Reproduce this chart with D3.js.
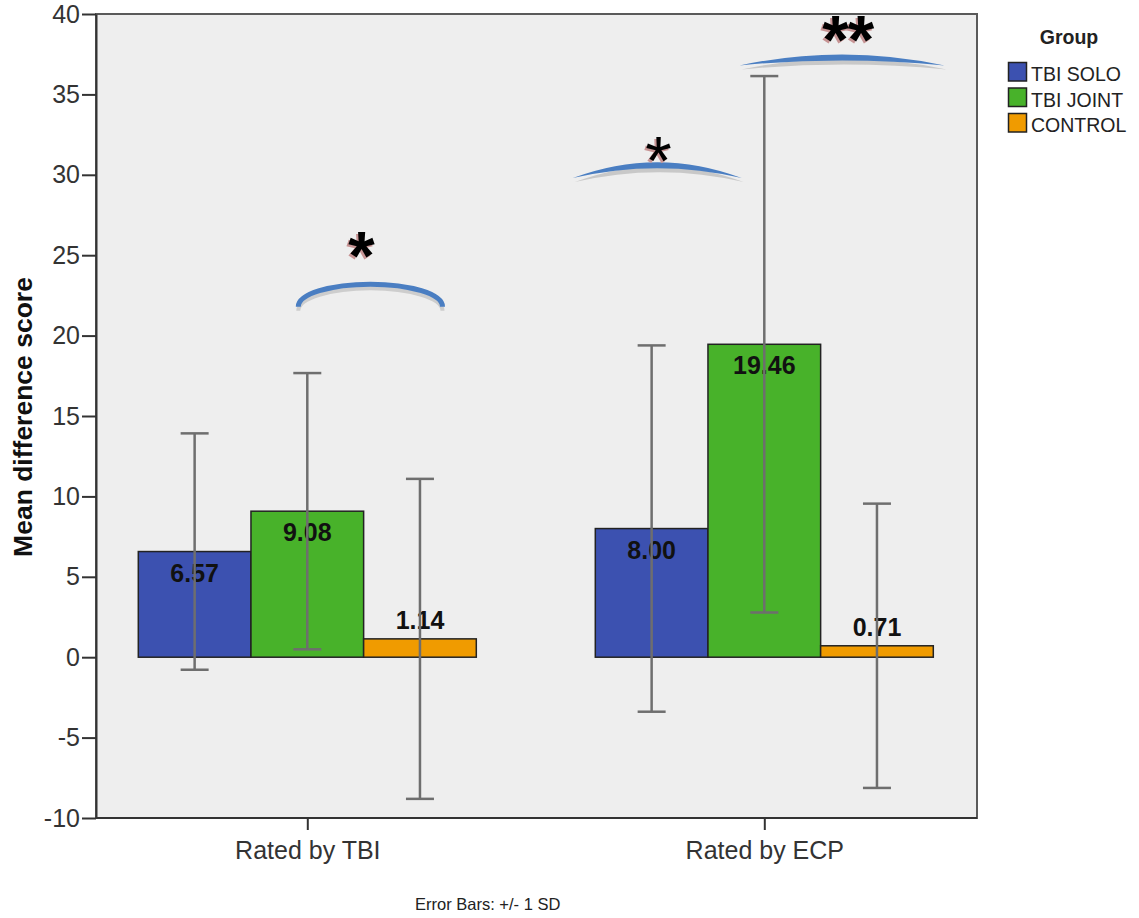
<!DOCTYPE html>
<html><head><meta charset="utf-8">
<script src="https://cdn.jsdelivr.net/npm/d3@7"></script>
<style>
body{margin:0;background:#fff;}
svg{display:block;font-family:"Liberation Sans",Arial,sans-serif;}
</style>
</head><body>
<svg id="chart" width="1139" height="918"></svg>
<script>
// ---------- data ----------
const categories = ["Rated by TBI", "Rated by ECP"];
const groups = ["TBI SOLO", "TBI JOINT", "CONTROL"];
const soloMeans = [6.57, 8.00];
const jointMeans = [9.08, 19.46];
const controlMeans = [1.14, 0.71];
const soloSD = [7.35, 11.39];
const jointSD = [8.59, 16.68];
const controlSD = [9.95, 8.84];
const yTicks = [-10, -5, 0, 5, 10, 15, 20, 25, 30, 35, 40];
const yDomain = [-10, 40];
const groupColors = ["#3c51b0", "#48b22a", "#f09b00"];
// significance annotations (x in bar widths from category centre, y in data units)
const sigLabels = ["*", "*", "**"];
const sigCategory = ["Rated by TBI", "Rated by ECP", "Rated by ECP"];
const sigFrom = [-0.08, -1.70, -0.22];
const sigTo = [1.20, -0.20, 1.60];
const sigEnd = [21.8, 29.8, 36.8];
const sigTop = [23.2, 30.6, 37.3];
const sigStarX = [0.48, -0.94, 0.74];
const sigStarY = [25.6, 31.5, 39.0];

// ---------- build ----------
const meansByGroup = [soloMeans, jointMeans, controlMeans];
const sdByGroup = [soloSD, jointSD, controlSD];
const rows = [];
categories.forEach((c, ci) => groups.forEach((g, gi) => {
  rows.push({cat: c, group: g, gi, mean: meansByGroup[gi][ci], sd: sdByGroup[gi][ci]});
}));

const svg = d3.select("#chart");
const plot = {left: 96, right: 977, top: 14, bottom: 818};

const x = d3.scalePoint().domain(categories).range([307.3, 764.3]);
const xg = d3.scaleBand().domain(groups).range([-169, 169]);
const y = d3.scaleLinear().domain(yDomain).range([plot.bottom, plot.top]);
const u = d3.scaleLinear().domain([0, 1]).range([0, xg.bandwidth()]);

// plot background
svg.append("rect")
  .attr("x", plot.left).attr("y", plot.top)
  .attr("width", plot.right - plot.left).attr("height", plot.bottom - plot.top)
  .attr("fill", "#eeeeee").attr("stroke", "#5a5a5a").attr("stroke-width", 2);

// bars
svg.append("g").selectAll("rect").data(rows).join("rect")
  .attr("x", d => x(d.cat) + xg(d.group))
  .attr("width", xg.bandwidth())
  .attr("y", d => y(Math.max(0, d.mean)))
  .attr("height", d => Math.abs(y(d.mean) - y(0)))
  .attr("fill", d => groupColors[d.gi])
  .attr("stroke", "#222").attr("stroke-width", 1.5);

// value labels
svg.append("g").selectAll("text").data(rows).join("text")
  .attr("x", d => x(d.cat) + xg(d.group) + xg.bandwidth() / 2)
  .attr("y", d => {
    const top = y(d.mean);
    return (y(0) - top) > 30 ? top + 30 : top - 10;
  })
  .attr("text-anchor", "middle")
  .attr("font-size", 25).attr("font-weight", "bold").attr("fill", "#111")
  .text(d => d.mean.toFixed(2));

// error bars
const eb = svg.append("g").attr("stroke", "#6e6e6e").attr("stroke-width", 2.5).attr("fill", "none");
rows.forEach(d => {
  const cx = x(d.cat) + xg(d.group) + xg.bandwidth() / 2;
  const y1 = y(d.mean + d.sd), y2 = y(d.mean - d.sd);
  eb.append("line").attr("x1", cx).attr("x2", cx).attr("y1", y1).attr("y2", y2);
  eb.append("line").attr("x1", cx - 14).attr("x2", cx + 14).attr("y1", y1).attr("y2", y1);
  eb.append("line").attr("x1", cx - 14).attr("x2", cx + 14).attr("y1", y2).attr("y2", y2);
});

// axes
const yAxis = svg.append("g").attr("transform", `translate(${plot.left},0)`)
  .call(d3.axisLeft(y).tickValues(yTicks).tickSize(14).tickSizeOuter(0).tickPadding(2).tickFormat(d => String(d)));
yAxis.selectAll("text").attr("font-size", 25).attr("fill", "#333").attr("font-family", "Liberation Sans, Arial, sans-serif");
yAxis.selectAll("line").attr("stroke", "#333").attr("stroke-width", 2);
yAxis.select(".domain").attr("stroke", "#333").attr("stroke-width", 2);

const xAxis = svg.append("g").attr("transform", `translate(0,${plot.bottom})`)
  .call(d3.axisBottom(x).tickSize(12).tickSizeOuter(0).tickPadding(11));
xAxis.select(".domain").attr("d", `M${plot.left},0H${plot.right}`).attr("stroke", "#333").attr("stroke-width", 2);
xAxis.selectAll("line").attr("stroke", "#333").attr("stroke-width", 2);
xAxis.selectAll("text").attr("font-size", 25).attr("fill", "#333").attr("font-family", "Liberation Sans, Arial, sans-serif");

// y title
svg.append("text")
  .attr("transform", `translate(32,${(plot.top + plot.bottom) / 2 + 1}) rotate(-90)`)
  .attr("text-anchor", "middle").attr("font-size", 26.5).attr("font-weight", "bold").attr("fill", "#111")
  .text("Mean difference score");

// footnote
svg.append("text").attr("x", 415).attr("y", 910).attr("font-size", 16.5).attr("fill", "#222")
  .text("Error Bars: +/- 1 SD");

// legend
const lg = svg.append("g");
lg.append("text").attr("x", 1069).attr("y", 44).attr("text-anchor", "middle")
  .attr("font-size", 19.5).attr("font-weight", "bold").attr("fill", "#222").text("Group");
groups.forEach((g, i) => {
  lg.append("rect").attr("x", 1008.5).attr("y", 62.5 + i * 25.5).attr("width", 18).attr("height", 18.5)
    .attr("fill", groupColors[i]).attr("stroke", "#222").attr("stroke-width", 1.5);
  lg.append("text").attr("x", 1031).attr("y", 81 + i * 25.5).attr("font-size", 19.5).attr("fill", "#222").text(g);
});

// significance brackets
const ann = svg.append("g");
sigLabels.forEach((lab, i) => {
  const cx0 = x(sigCategory[i]);
  const x1 = cx0 + u(sigFrom[i]), x2 = cx0 + u(sigTo[i]);
  const yEnd = y(sigEnd[i]), yTop = y(sigTop[i]);
  if (i === 0) {
    const rx = (x2 - x1) / 2, ry = yEnd - yTop;
    const p = `M${x1},${yEnd} A${rx},${ry} 0 0 1 ${x2},${yEnd}`;
    ann.append("path").attr("d", p).attr("transform", "translate(0,4)")
      .attr("fill", "none").attr("stroke", "#cdcdcd").attr("stroke-width", 4);
    ann.append("path").attr("d", p)
      .attr("fill", "none").attr("stroke", "#4a7ec2").attr("stroke-width", 5);
  } else {
    const mx = (x1 + x2) / 2;
    const cUp = 2 * (yTop - 3) - yEnd, cDn = 2 * (yTop + 3) - yEnd;
    const p = `M${x1},${yEnd} Q${mx},${cUp} ${x2},${yEnd} Q${mx},${cDn} ${x1},${yEnd}Z`;
    ann.append("path").attr("d", p).attr("transform", "translate(2,4)").attr("fill", "#c8c8c8");
    ann.append("path").attr("d", p).attr("fill", "#4a7ec2");
  }
  const sx = cx0 + u(sigStarX[i]);
  const fs = i === 2 ? 68 : 68;
  const bold = i === 1 ? "normal" : "bold";
  const by = y(sigStarY[i]) + fs * 0.485;
  const ls = i === 2 ? -1 : 0;
  ann.append("text").attr("x", sx - 2).attr("y", by + 2).attr("text-anchor", "middle")
    .attr("font-size", fs).attr("font-weight", bold).attr("fill", "#c79494")
    .attr("letter-spacing", ls).text(lab);
  ann.append("text").attr("x", sx).attr("y", by).attr("text-anchor", "middle")
    .attr("font-size", fs).attr("font-weight", bold).attr("fill", "#000")
    .attr("letter-spacing", ls).text(lab);
});
</script>
</body></html>
